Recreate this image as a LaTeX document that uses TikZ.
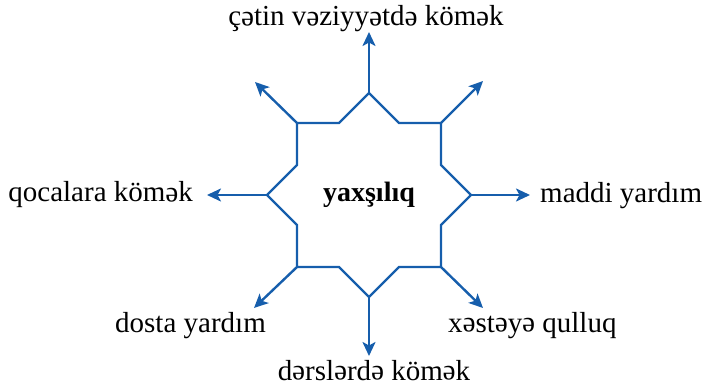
\documentclass[tikz,border=0pt]{standalone}
\usepackage{fontspec}
\usepackage{newunicodechar}
\setmainfont{Liberation Serif}
\newunicodechar{ə}{\rotatebox[origin=c]{180}{e}}
\usetikzlibrary{arrows.meta}
\definecolor{starblue}{RGB}{22,94,172}

\begin{document}
\begin{tikzpicture}[x=1pt, y=-1pt,
  edge/.style={draw=starblue, line width=2.4pt, line join=miter},
  ray/.style={draw=starblue, line width=2.4pt, -{Stealth[length=14pt,width=13pt,inset=3.5pt]}},
  wordbox/.style={font=\fontsize{29}{32}\selectfont, inner sep=0pt}]
  \useasboundingbox (0,0) rectangle (703,387);

  % star around the centre
  \begin{scope}[shift={(369,195)}]
    \node[wordbox, font=\fontsize{28}{32}\selectfont\bfseries] (mid) at (0,0) {yaxşılıq};
    \coordinate (n) at (0,-102);   \coordinate (s) at (0,102);
    \coordinate (w) at (-102,0);   \coordinate (e) at (102,0);
    \coordinate (nw) at (-72,-72); \coordinate (ne) at (72,-72);
    \coordinate (sw) at (-72,72);  \coordinate (se) at (72,72);
    \draw[edge] (n) -- (30,-72) -- (ne) -- (72,-30) -- (e) -- (72,30) -- (se)
      -- (30,72) -- (s) -- (-30,72) -- (sw) -- (-72,30) -- (w) -- (-72,-30)
      -- (nw) -- (-30,-72) -- cycle;
    % arrow tips
    \coordinate (tn) at (0,-163);    \coordinate (ts) at (0,161);
    \coordinate (tw) at (-162,0);    \coordinate (te) at (161,0);
    \coordinate (tnw) at (-114,-113); \coordinate (tne) at (114,-114);
    \coordinate (tsw) at (-115,113);  \coordinate (tse) at (114,113);
  \end{scope}

  \foreach \p in {n,s,w,e,nw,ne,sw,se}
    \draw[ray] (\p) -- (t\p);

  % words
  \node[wordbox, anchor=base] (hard) at (366,26) {çətin vəziyyətdə kömək};
  \node[wordbox, anchor=base east] (old) at (193,202) {qocalara kömək};
  \node[wordbox, anchor=base west] (money) at (540,203) {maddi yardım};
  \node[wordbox, anchor=base west] (friend) at (115,332) {dosta yardım};
  \node[wordbox, anchor=base west] (sick) at (448,332) {xəstəyə qulluq};
  \node[wordbox, anchor=base] (lesson) at (374,380) {dərslərdə kömək};
\end{tikzpicture}
\end{document}
